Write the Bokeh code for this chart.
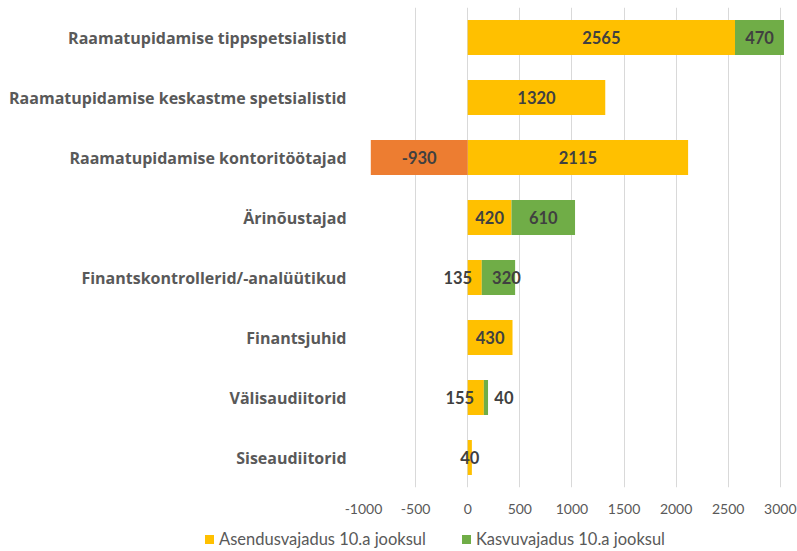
from bokeh.plotting import figure
from bokeh.layouts import column
from bokeh.models import (ColumnDataSource, FactorRange, Range1d, Div,
                          FixedTicker, NumeralTickFormatter)
from bokeh.core.properties import value
from bokeh.embed import file_html
from bokeh.resources import INLINE

# ---- data ----
categories = [
    "Raamatupidamise tippspetsialistid",
    "Raamatupidamise keskastme spetsialistid",
    "Raamatupidamise kontoritöötajad",
    "Ärinõustajad",
    "Finantskontrollerid/-analüütikud",
    "Finantsjuhid",
    "Välisaudiitorid",
    "Siseaudiitorid",
]
asendus = [2565, 1320, 2115, 420, 135, 430, 155, 40]
kasvu = [470, 0, -930, 610, 320, 0, 40, 0]
x_ticks = [-1000, -500, 0, 500, 1000, 1500, 2000, 2500, 3000]
series_names = ["Asendusvajadus 10.a jooksul", "Kasvuvajadus 10.a jooksul"]

# label nudges (pixels) as placed in the original
asendus_label_dx = [0, 0, 0, 0, -17, 0, -16, 0]
kasvu_label_dx = [0, 0, 0, 0, 8, 0, 18, 0]

YELLOW = "#FFC000"
GREEN = "#70AD47"
ORANGE = "#ED7D31"
TXT = "#595959"
LBL = "#404040"
FONT = "Lato"

# ---- sources ----
a_src = ColumnDataSource(dict(
    y=categories, left=[0] * len(asendus), right=asendus,
    lx=[a / 2 for a in asendus], txt=[str(a) for a in asendus], dx=asendus_label_dx,
))

ky, kl, kr, kc, klx, ktxt, kdx = [], [], [], [], [], [], []
for c, a, k, d in zip(categories, asendus, kasvu, kasvu_label_dx):
    if k == 0:
        continue
    if k > 0:
        l, r, col = a, a + k, GREEN
    else:
        l, r, col = k, 0, ORANGE
    ky.append(c); kl.append(l); kr.append(r); kc.append(col)
    klx.append((l + r) / 2); ktxt.append(str(k)); kdx.append(d)
k_src = ColumnDataSource(dict(y=ky, left=kl, right=kr, color=kc, lx=klx, txt=ktxt, dx=kdx))

# ---- main figure ----
p = figure(
    frame_width=421, frame_height=480,
    y_range=FactorRange(factors=list(reversed(categories))),
    x_range=Range1d(-1000, 3040),
    output_backend="svg", toolbar_location=None,
    min_border_left=363, min_border_right=13, min_border_top=7, min_border_bottom=37,
)
p.outline_line_color = None
p.background_fill_color = "white"
p.border_fill_color = "white"

p.hbar(y="y", left="left", right="right", height=0.58, source=a_src,
       fill_color=YELLOW, line_color=None)
p.hbar(y="y", left="left", right="right", height=0.58, source=k_src,
       fill_color="color", line_color=None)

for src in (a_src, k_src):
    p.text(x="lx", y="y", text="txt", x_offset="dx", source=src,
           text_align="center", text_baseline="middle",
           text_font=value(FONT), text_font_style="bold",
           text_font_size="16.5px", text_color=LBL)

# axes
p.xaxis.ticker = FixedTicker(ticks=x_ticks)
p.xaxis.formatter = NumeralTickFormatter(format="0")
p.xaxis.axis_line_color = None
p.xaxis.major_tick_line_color = None
p.xaxis.minor_tick_line_color = None
p.xaxis.major_label_text_font = FONT
p.xaxis.major_label_text_font_size = "14px"
p.xaxis.major_label_text_color = TXT
p.xaxis.major_label_standoff = 10

p.yaxis.axis_line_color = None
p.yaxis.major_tick_line_color = None
p.yaxis.minor_tick_line_color = None
p.yaxis.major_label_text_font = "Open Sans"
p.yaxis.major_label_text_font_style = "bold"
p.yaxis.major_label_text_font_size = "16px"
p.yaxis.major_label_text_color = TXT
p.yaxis.major_label_standoff = 11

p.xgrid.grid_line_color = "#D9D9D9"
p.ygrid.grid_line_color = None

# ---- legend strip ----
swatches = [YELLOW, GREEN]
items_html = "".join(
    f'<span style="display:inline-block;width:9px;height:9px;background:{c};'
    f'vertical-align:middle;margin-right:5px"></span>'
    f'<span style="vertical-align:middle;margin-right:{36 if i == 0 else 0}px">{name}</span>'
    for i, (c, name) in enumerate(zip(swatches, series_names))
)
legend_div = Div(
    text=(f'<div style="font-family:Lato;font-size:16.5px;color:{TXT};'
          f'padding:4px 0 0 205px;line-height:21px;white-space:nowrap">{items_html}</div>'),
    width=797, height=27, margin=0,
)

layout = column(p, legend_div, spacing=0)
open("out.html", "w").write(file_html(layout, INLINE))
